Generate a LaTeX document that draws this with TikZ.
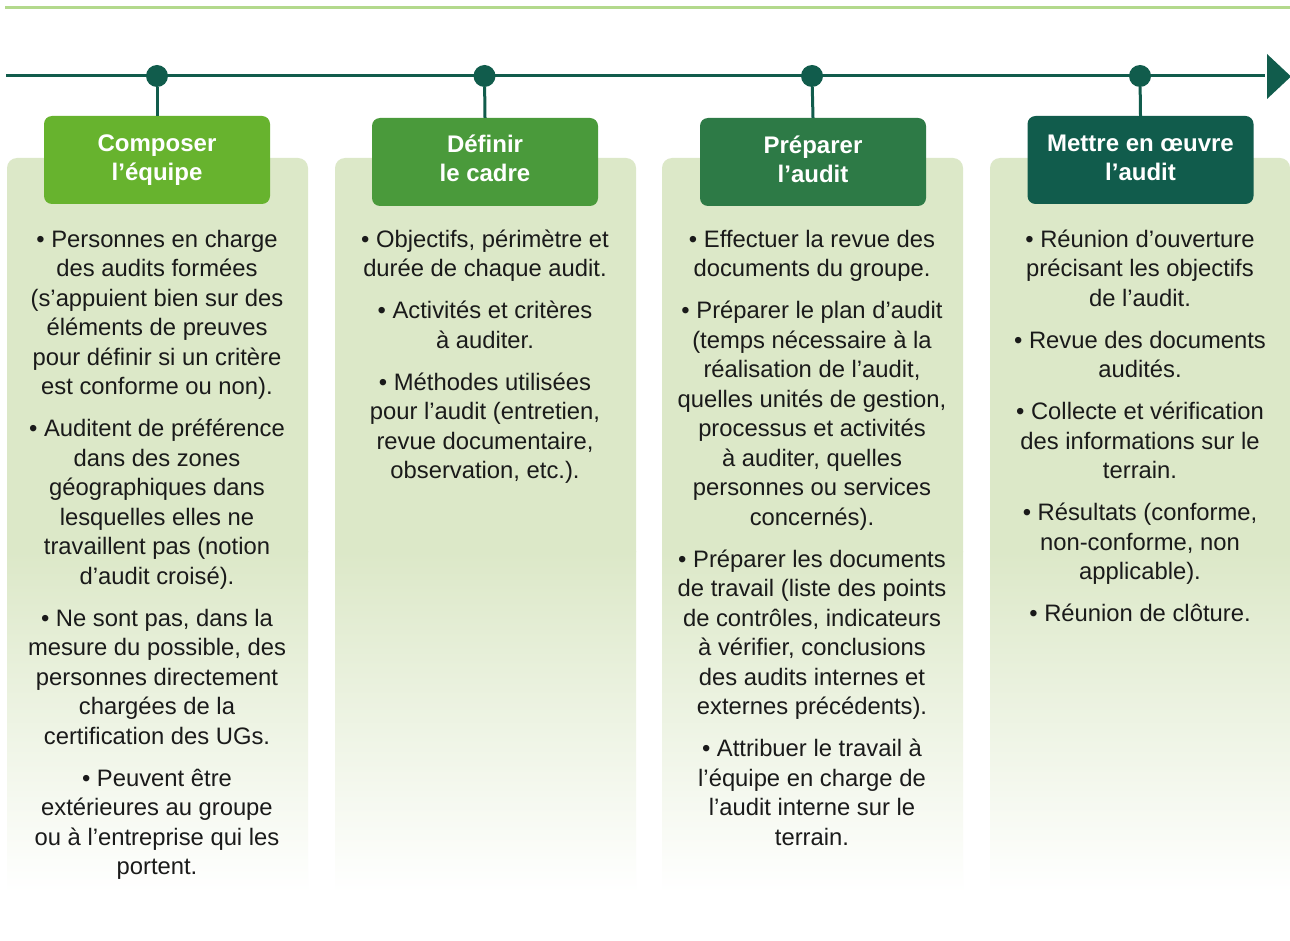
\documentclass[tikz,border=0pt]{standalone}
\usepackage{fontspec}
\setmainfont{Liberation Sans}
\definecolor{dk}{HTML}{115C4C}
\definecolor{cA}{HTML}{67B32E}
\definecolor{cB}{HTML}{4A9A3B}
\definecolor{cC}{HTML}{2D7A46}
\definecolor{cD}{HTML}{115C4C}
\definecolor{pan}{HTML}{DCE8C8}
\definecolor{topl}{HTML}{B3D98C}
\definecolor{txt}{HTML}{1A1A1A}
\begin{document}
\begin{tikzpicture}[x=1pt,y=-1pt,
  headbox/.style={rounded corners=8pt, minimum width=226pt, minimum height=88pt, inner sep=0pt},
  headtxt/.style={anchor=north, inner sep=0pt, text=white, align=center,
    font=\bfseries\fontsize{24}{29}\selectfont},
  body/.style={anchor=north, inner sep=0pt, align=center, text=txt,
    font=\fontsize{23.8}{29.5}\selectfont},
  dot/.style={circle, fill=dk, minimum size=22pt, inner sep=0pt},
  stem/.style={draw=dk, line width=3pt},
  tline/.style={draw=dk, line width=3pt}]
\useasboundingbox (0,0) rectangle (1290,941);
\fill[white] (0,0) rectangle (1290,941);
% top thin line
\coordinate (tA) at (5,7.5);
\coordinate (tB) at (1290,7.5);
\draw[topl, line width=2.5pt] (tA) -- (tB);
% panels
\foreach \xl/\xr in {7/308, 335/636, 662/963, 990/1290}{
  \fill[pan] (\xl,552) [rounded corners=10pt] -- (\xl,158) -- (\xr,158) [sharp corners] -- (\xr,552) -- cycle;
  \shade[top color=pan, bottom color=white] (\xl,551.5) rectangle (\xr,893);
}
% timeline
\coordinate (tl0) at (6,76);
\coordinate (tl1) at (1265,76);
\coordinate (tip) at (1291,76.5);
\draw[tline] (tl0) -- (tl1);
\fill[dk] (1267,54) -- (tip) -- (1267,99) -- cycle;
% dots
\node[dot] (d1) at (157,76) {};
\node[dot] (d2) at (484.5,76) {};
\node[dot] (d3) at (812,76) {};
\node[dot] (d4) at (1140,76) {};
% header boxes
\node[headbox, fill=cA] (h1) at (157,160) {};
\node[headbox, fill=cB] (h2) at (485,162) {};
\node[headbox, fill=cC] (h3) at (813,162) {};
\node[headbox, fill=cD] (h4) at (1140.5,160) {};
% stems
\draw[stem] (d1) -- (h1.north);
\draw[stem] (d2) -- (h2.north);
\draw[stem] (d3) -- (h3.north);
\draw[stem] (d4) -- (h4.north);
% header texts (first baseline minus strut height 20.3)
\node[headtxt] (ht1) at (157,131.3) {\strut Composer\\l’équipe};
\node[headtxt] (ht2) at (485,131.6) {\strut Définir\\le cadre};
\node[headtxt] (ht3) at (813,132.7) {\strut Préparer\\l’audit};
\node[headtxt] (ht4) at (1140.5,131.2) {\strut Mettre en œuvre\\l’audit};
% body texts
\node[body] (b1) at (157,226.4) {\strut • Personnes en charge\\des audits formées\\(s’appuient bien sur des\\éléments de preuves\\pour définir si un critère\\est conforme ou non).\\[12.5pt]
• Auditent de préférence\\dans des zones\\géographiques dans\\lesquelles elles ne\\travaillent pas (notion\\d’audit croisé).\\[12.5pt]
• Ne sont pas, dans la\\mesure du possible, des\\personnes directement\\chargées de la\\certification des UGs.\\[12.5pt]
• Peuvent être\\extérieures au groupe\\ou à l’entreprise qui les\\portent.};
\node[body] (b2) at (485,226.4) {\strut • Objectifs, périmètre et\\durée de chaque audit.\\[12.5pt]
• Activités et critères\\à auditer.\\[12.5pt]
• Méthodes utilisées\\pour l’audit (entretien,\\revue documentaire,\\observation, etc.).};
\node[body] (b3) at (812,226.4) {\strut • Effectuer la revue des\\documents du groupe.\\[12.5pt]
• Préparer le plan d’audit\\(temps nécessaire à la\\réalisation de l’audit,\\quelles unités de gestion,\\processus et activités\\à auditer, quelles\\personnes ou services\\concernés).\\[12.5pt]
• Préparer les documents\\de travail (liste des points\\de contrôles, indicateurs\\à vérifier, conclusions\\des audits internes et\\externes précédents).\\[12.5pt]
• Attribuer le travail à\\l’équipe en charge de\\l’audit interne sur le\\terrain.};
\node[body] (b4) at (1140,226.4) {\strut • Réunion d’ouverture\\précisant les objectifs\\de l’audit.\\[12.5pt]
• Revue des documents\\audités.\\[12.5pt]
• Collecte et vérification\\des informations sur le\\terrain.\\[12.5pt]
• Résultats (conforme,\\non-conforme, non\\applicable).\\[12.5pt]
• Réunion de clôture.};
\end{tikzpicture}
\end{document}
